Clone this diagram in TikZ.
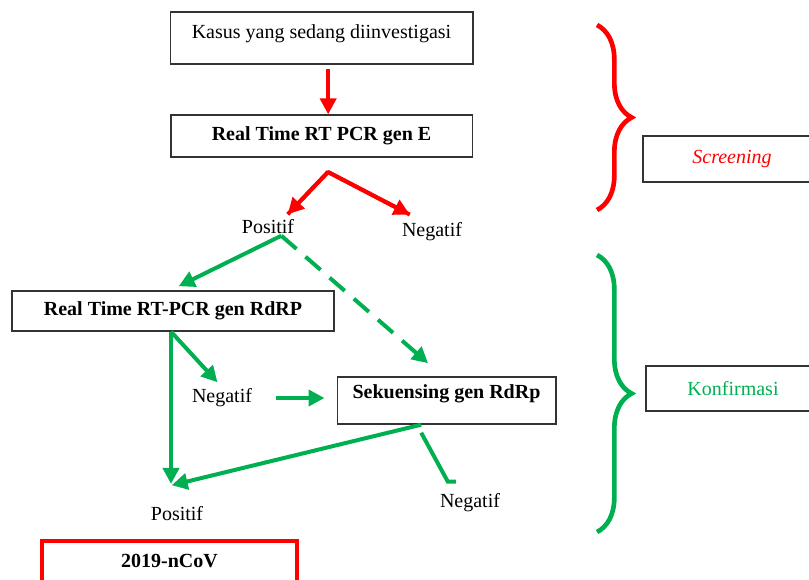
\documentclass[tikz,border=0pt]{standalone}
\usepackage{fontspec}
\setmainfont{Liberation Serif}
\usetikzlibrary{positioning,arrows.meta,decorations.pathreplacing}
\definecolor{wordgreen}{RGB}{0,176,80}
\tikzset{box node/.style={draw=black!80,line width=1pt,inner sep=0pt,font=\fontsize{15}{18}\selectfont},
         word node/.style={inner sep=1pt,font=\fontsize{15}{18}\selectfont},
         red arrow/.style={draw=red,line width=3pt,-{Triangle[length=12pt,width=12pt]}},
         green arrow/.style={draw=wordgreen,line width=3pt,-{Triangle[length=12pt,width=12pt]}},
         stage brace/.style={decorate,decoration={brace,amplitude=26pt},line width=3.5pt},
            }

\begin{document}
\begin{tikzpicture}[x=0.75pt,y=-0.75pt]
    \useasboundingbox (0,0) rectangle (809,579);
    \clip (0,0) rectangle (809,579);

    \node[box node,minimum width=227pt,text height=19.5pt,text depth=19.5pt] (kasus) at (321.5,38) {Kasus yang sedang diinvestigasi};
    \node[box node,minimum width=226pt,minimum height=31.5pt,font=\fontsize{15}{18}\selectfont\bfseries] (genE) at (321.5,136) {Real Time RT PCR gen E};
    \node[word node] (pos1) at (268,227) {Positif};
    \node[word node] (neg1) at (432,232) {Negatif};
    \node[box node,minimum width=241.5pt,minimum height=30pt,font=\fontsize{15}{18}\selectfont\bfseries] (rdrp) at (173,311) {Real Time RT-PCR gen RdRP};
    \node[word node] (neg2) at (222,398) {Negatif};
    \node[box node,minimum width=164pt,text height=15.75pt,text depth=19.5pt,font=\fontsize{15}{18}\selectfont\bfseries] (sek) at (446.5,400.5) {Sekuensing gen RdRp};
    \node[word node] (pos2) at (177,514) {Positif};
    \node[word node] (neg3) at (470,503) {Negatif};
    \node[box node,draw=red,line width=3pt,minimum width=191pt,text height=20pt,text depth=25pt,font=\fontsize{15}{18}\selectfont\bfseries] (ncov) at (169.5,571) {2019-nCoV};

    \node[box node,minimum width=133.5pt,minimum height=34.5pt,text=red,font=\fontsize{15}{18}\selectfont\itshape] (screen) at (732,159) {Screening};
    \node[box node,minimum width=130.5pt,minimum height=33.75pt,text=wordgreen] (konf) at (733,388.5) {Konfirmasi};

    \coordinate (fork1) at (328,172);
    \coordinate (fork2) at ([xshift=10pt]pos1.south);

    % screening
    \draw[red arrow,shorten <=3pt] ([xshift=5pt]kasus.south) -- ([xshift=5pt]genE.north);
    \draw[draw=red,line width=3pt,line join=round] ([xshift=-6pt,yshift=3pt]pos1.north east) -- (fork1) -- ([xshift=7pt,yshift=5pt]neg1.north west);
    \draw[red arrow] (fork1) -- ([xshift=-6pt,yshift=3pt]pos1.north east);
    \draw[red arrow] (fork1) -- ([xshift=7pt,yshift=5pt]neg1.north west);

    % konfirmasi
    \draw[green arrow,shorten >=7pt] (fork2) -- ([xshift=-2pt]rdrp.north);
    \draw[green arrow,dash pattern=on 15pt off 9pt,shorten >=15pt] (fork2) -- ([xshift=-2.5pt]sek.north);
    \draw[green arrow,shorten >=5pt] ([xshift=-1.5pt]rdrp.south) -- (neg2.north);
    \draw[green arrow,shorten >=16pt] ([xshift=-1.5pt]rdrp.south) -- ([xshift=-1.5pt]rdrp.south |- pos2.north);
    \draw[green arrow,shorten <=17pt,shorten >=9pt] (neg2.east) -- (neg2.east -| sek.west);
    \draw[green arrow] ([xshift=-19pt]sek.south) -- ([xshift=-4pt,yshift=15pt]pos2.north);
    \draw[draw=wordgreen,line width=3pt] ([xshift=-19pt,yshift=-6pt]sek.south) -- ([xshift=7pt,yshift=8pt]neg3.north west) -- ++(8,0);

    \draw[stage brace,red] (597,25) -- (597,210);
    \draw[stage brace,wordgreen] (597,255) -- (597,532);
\end{tikzpicture}
\end{document}
